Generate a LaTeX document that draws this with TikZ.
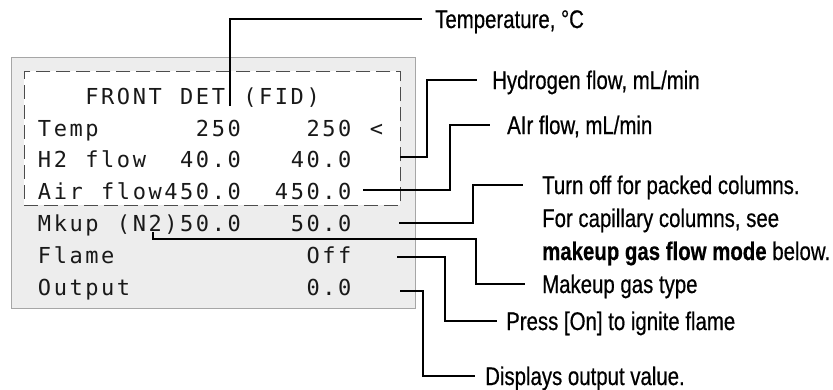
\documentclass[tikz,border=0pt]{standalone}
\usepackage{fontspec}
\newfontfamily\lblfont[FakeStretch=0.8, FakeBold=0.5]{Liberation Sans}
\newfontfamily\monofont{DejaVu Sans Mono}
\newlength\mpitch \setlength\mpitch{15.8pt}
\def\mrow#1{\mrowx#1\relax}
\def\mrowx#1{\ifx#1\relax\else\makebox[\mpitch][c]{\ifx#1*\else#1\fi}\expandafter\mrowx\fi}
\begin{document}
\begin{tikzpicture}[x=1pt,y=-1pt,
  conn/.style={line width=1.1pt, black},
  lbl/.style={anchor=west, inner sep=0pt, text height=18pt, text depth=0pt,
    font=\lblfont\fontsize{25.5pt}{32pt}\selectfont},
  mono/.style={anchor=base west, inner sep=0pt,
    font=\monofont\fontsize{22pt}{26pt}\selectfont, text=black!90}]
\useasboundingbox (0,0) rectangle (833,389);
% panel
\node[draw=gray!70, fill=gray!14, line width=0.9pt, minimum width=404pt,
  minimum height=251pt, anchor=north west, inner sep=0pt] (panel) at (10.5,57) {};
\node[draw=gray!60!black, line width=0.9pt, dash pattern=on 14pt off 6pt, fill=white,
  minimum width=376pt, minimum height=134pt, anchor=north west, inner sep=0pt] (dbox) at (24,71) {};
% display rows
\node[mono] (r0) at (36.5,104) {\mrow{***FRONT*DET*(FID)}};
\node[mono] (r1) at (36.5,136) {\mrow{Temp******250****250*<}};
\node[mono] (r2) at (36.5,167) {\mrow{H2*flow**40.0***40.0}};
\node[mono] (r3) at (36.5,199) {\mrow{Air*flow450.0**450.0}};
\node[mono] (r4) at (36.5,231) {\mrow{Mkup*(N2)50.0***50.0}};
\node[mono] (r5) at (36.5,263) {\mrow{Flame************Off}};
\node[mono] (r6) at (36.5,295) {\mrow{Output***********0.0}};
% connector points
\coordinate (pTemp) at (230,106);
\coordinate (pH2) at (400,157); \coordinate (kH2) at (427,157);
\coordinate (pAir) at (363,190); \coordinate (kAir) at (450,190);
\coordinate (pMk) at (399,223); \coordinate (kMk) at (473,223);
\coordinate (pGas) at (153,232); \coordinate (qGas) at (153,239); \coordinate (kGas) at (476,239);
\coordinate (pFl) at (397,257); \coordinate (kFl) at (445,257);
\coordinate (pOut) at (400,291); \coordinate (kOut) at (423,291);
% labels
\node[lbl] (lTemp) at (435,19) {Temperature, °C};
\node[lbl] (lH2) at (492,80) {Hydrogen flow, mL/min};
\node[lbl] (lAir) at (507,125) {AIr flow, mL/min};
\node[lbl] (lTurn) at (542,185) {Turn off for packed columns.};
\node[lbl] (lCap) at (542,218) {For capillary columns, see};
\node[lbl] (lMode) at (542,251) {\textbf{makeup gas flow mode} below.};
\node[lbl] (lGas) at (542,284) {Makeup gas type};
\node[lbl] (lPress) at (506,321) {Press [On] to ignite flame};
\node[lbl] (lDisp) at (485,376) {Displays output value.};
% connectors
\draw[conn, shorten >=13pt] (pTemp) |- (lTemp.west);
\draw[conn, shorten >=15pt] (pH2) -- (kH2) |- (lH2.west);
\draw[conn, shorten >=17pt] (pAir) -- (kAir) |- (lAir.west);
\draw[conn, shorten >=19pt] (pMk) -- (kMk) |- (lTurn.west);
\draw[conn, shorten >=17pt] (pGas) -- (qGas) -- (kGas) |- (lGas.west);
\draw[conn, shorten >=9pt] (pFl) -- (kFl) |- (lPress.west);
\draw[conn, shorten >=10pt] (pOut) -- (kOut) |- (lDisp.west);
\end{tikzpicture}
\end{document}
